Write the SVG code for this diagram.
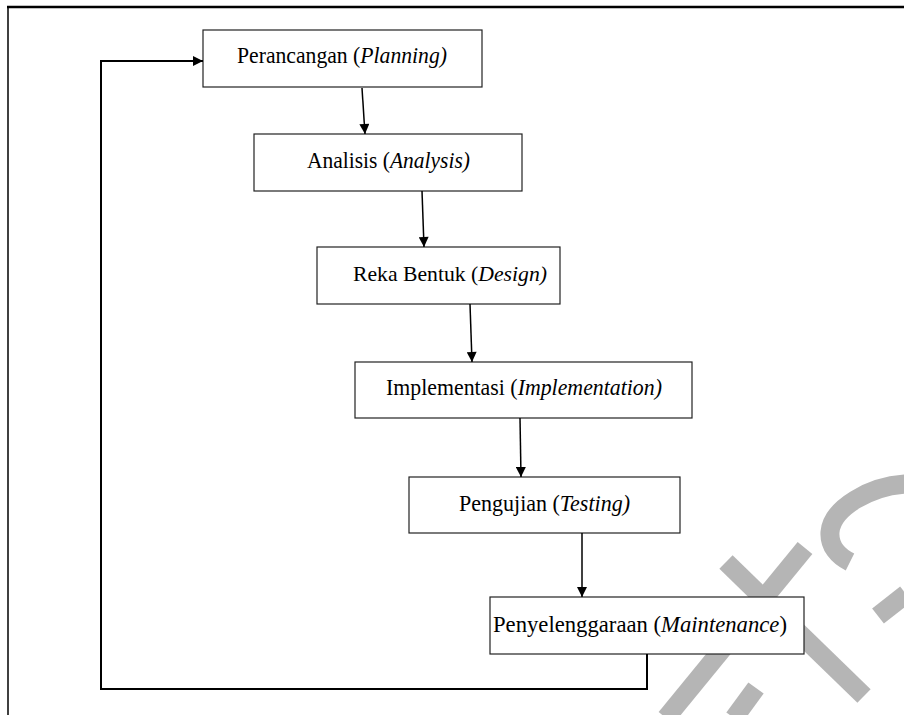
<svg xmlns="http://www.w3.org/2000/svg" width="904" height="715" viewBox="0 0 904 715">
<defs>
<marker id="ah" viewBox="0 0 10 10" refX="10" refY="5" markerWidth="11" markerHeight="10" markerUnits="userSpaceOnUse" orient="auto">
<path d="M0,0 L10,5 L0,10 z" fill="#000"/>
</marker>
<style>
.wm{fill:none;stroke:#b5b5b5;stroke-width:19;stroke-linecap:butt}
.box{fill:#fff;stroke:#222;stroke-width:1.2}
.lbl{font-family:"Liberation Serif","Times New Roman",serif;font-size:23px;fill:#000}
.it{font-style:italic}
.con{fill:none;stroke:#000;stroke-width:1.5}
.fb{fill:none;stroke:#000;stroke-width:2}
</style>
</defs>
<rect width="904" height="715" fill="#fff"/>
<g id="frame">
<line x1="7" y1="7" x2="904" y2="7" stroke="#000" stroke-width="2.5"/>
<line x1="8" y1="6" x2="8" y2="715" stroke="#000" stroke-width="1.5"/>
</g>
<g id="watermark">
<line class="wm" x1="805" y1="548" x2="666" y2="718"/>
<line class="wm" x1="726" y1="562" x2="864" y2="696"/>
<path class="wm" d="M906,484 C870,486 832,508 830,532 C829,546 838,556 850,562"/>
<line class="wm" x1="906" y1="594" x2="878" y2="616"/>
<line class="wm" x1="756" y1="688" x2="734" y2="718"/>
</g>
<g id="n1">
<rect class="box" x="203" y="30" width="279" height="57"/>
<text class="lbl" x="237" y="63" textLength="210" lengthAdjust="spacingAndGlyphs">Perancangan (<tspan class="it">Planning)</tspan></text>
</g>
<g id="n2">
<rect class="box" x="254" y="134" width="268" height="57"/>
<text class="lbl" x="307" y="168" textLength="163" lengthAdjust="spacingAndGlyphs">Analisis (<tspan class="it">Analysis)</tspan></text>
</g>
<g id="n3">
<rect class="box" x="317" y="247" width="243" height="57"/>
<text class="lbl" x="353" y="281" style="font-size:21.7px">Reka Bentuk (<tspan class="it">Design)</tspan></text>
</g>
<g id="n4">
<rect class="box" x="355" y="362" width="337" height="56"/>
<text class="lbl" x="386" y="395" textLength="276" lengthAdjust="spacingAndGlyphs">Implementasi (<tspan class="it">Implementation)</tspan></text>
</g>
<g id="n5">
<rect class="box" x="409" y="477" width="271" height="56"/>
<text class="lbl" x="459" y="511" textLength="171" lengthAdjust="spacingAndGlyphs">Pengujian (<tspan class="it">Testing)</tspan></text>
</g>
<g id="n6">
<rect class="box" x="490" y="597" width="314" height="57"/>
<text class="lbl" x="493" y="632" textLength="294" lengthAdjust="spacingAndGlyphs">Penyelenggaraan (<tspan class="it">Maintenance</tspan>)</text>
</g>
<g id="connectors">
<line class="con" x1="362" y1="88" x2="365" y2="134" marker-end="url(#ah)"/>
<line class="con" x1="422" y1="191" x2="424" y2="247" marker-end="url(#ah)"/>
<line class="con" x1="470" y1="304" x2="472" y2="362" marker-end="url(#ah)"/>
<line class="con" x1="520" y1="418" x2="521" y2="477" marker-end="url(#ah)"/>
<line class="con" x1="582" y1="533" x2="582" y2="597" marker-end="url(#ah)"/>
<polyline class="fb" points="647,654 647,689 101,689 101,61 203,61" marker-end="url(#ah)"/>
</g>
</svg>
